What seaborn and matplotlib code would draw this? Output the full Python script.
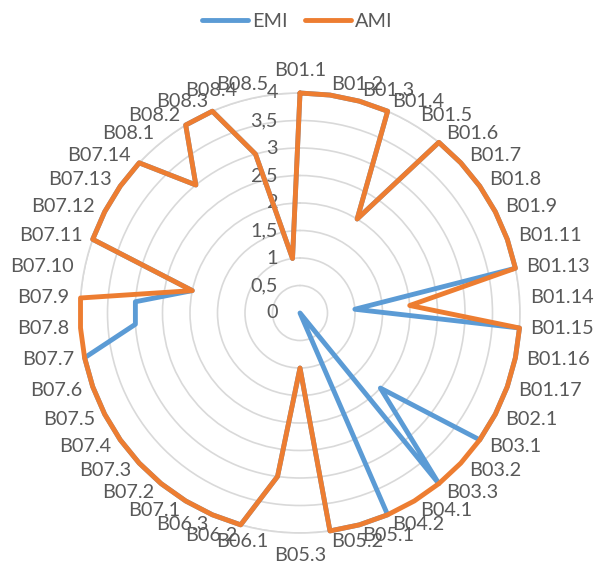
import numpy as np
import pandas as pd
import matplotlib
matplotlib.use("Agg")
import matplotlib.pyplot as plt
import seaborn as sns
from matplotlib.lines import Line2D

categories = ["B01.1", "B01.2", "B01.3", "B01.4", "B01.5", "B01.6", "B01.7", "B01.8",
              "B01.9", "B01.11", "B01.13", "B01.14", "B01.15", "B01.16", "B01.17",
              "B02.1", "B03.1", "B03.2", "B03.3", "B04.1", "B04.2", "B05.1", "B05.2",
              "B05.3", "B06.1", "B06.2", "B06.3", "B07.1", "B07.2", "B07.3", "B07.4",
              "B07.5", "B07.6", "B07.7", "B07.8", "B07.9", "B07.10", "B07.11", "B07.12",
              "B07.13", "B07.14", "B08.1", "B08.2", "B08.3", "B08.4", "B08.5"]

emi = [4, 4, 4, 4, 2, 4, 4, 4, 4, 4, 4, 1, 4, 4, 4,
       4, 4, 2, 4, 0, 4, 4, 4,
       1, 3, 4, 4, 4, 4, 4, 4,
       4, 4, 4, 3, 3, 2, 4, 4,
       4, 4, 3, 4, 4, 3, 1]
ami = [4, 4, 4, 4, 2, 4, 4, 4, 4, 4, 4, 2, 4, 4, 4,
       4, 4, 4, 4, 4, 4, 4, 4,
       1, 3, 4, 4, 4, 4, 4, 4,
       4, 4, 4, 4, 4, 2, 4, 4,
       4, 4, 3, 4, 4, 3, 1]

series_names = ["EMI", "AMI"]
radial_ticks = [0, 0.5, 1, 1.5, 2, 2.5, 3, 3.5, 4]
radial_tick_labels = ["0", "0,5", "1", "1,5", "2", "2,5", "3", "3,5", "4"]

sns.set_style("white")
plt.rcParams["font.family"] = ["Lato", "DejaVu Sans"]
TEXT = "#595959"
GRID = "#d9d9d9"
colors = {"EMI": "#5B9BD5", "AMI": "#ED7D31"}

n = len(categories)
theta = np.linspace(0, 2 * np.pi, n, endpoint=False)

rows = []
for name, vals in zip(series_names, [emi, ami]):
    th = list(theta) + [2 * np.pi]
    vv = list(vals) + [vals[0]]
    for t, v in zip(th, vv):
        rows.append({"theta": t, "value": v, "series": name})
df = pd.DataFrame(rows)

fig = plt.figure(figsize=(5.95, 5.67), dpi=100)
ax = fig.add_axes([80 / 595, 34 / 567, 440 / 595, 440 / 567], projection="polar")
ax.set_theta_zero_location("N")
ax.set_theta_direction(-1)
ax.set_axisbelow(True)

sns.lineplot(data=df, x="theta", y="value", hue="series", hue_order=series_names,
             palette=colors, sort=False, estimator=None, linewidth=3.5, ax=ax,
             legend=False)
for i, ln in enumerate(ax.lines):
    ln.set_clip_on(False)
    ln.set_solid_joinstyle("round")
    ln.set_solid_capstyle("round")
    ln.set_zorder(5 + i)

ax.set_ylim(0, 4)
ax.set_yticks(radial_ticks[1:])
ax.set_yticklabels([])
ax.set_xticks(theta)
ax.set_xticklabels([])
ax.xaxis.grid(False)
ax.yaxis.grid(True, color=GRID, linewidth=1.2)
ax.spines["polar"].set_color(GRID)
ax.spines["polar"].set_linewidth(1.2)
ax.spines["polar"].set_zorder(1)
ax.set_xlabel("")
ax.set_ylabel("")

fs = 14.3
for v, lbl in zip(radial_ticks, radial_tick_labels):
    ax.annotate(lbl, xy=(0, v), xytext=(-22, 0), textcoords="offset pixels",
                ha="right", va="center", fontsize=fs, color=TEXT, annotation_clip=False)

pad = 11
for t, cat in zip(theta, categories):
    s, c = np.sin(t), np.cos(t)
    if abs(s) < 1e-6:
        ha = "center"
        va = "bottom" if c > 0 else "top"
        p = 14
    elif s > 0:
        ha, va = "left", "center"
        p = pad
    else:
        ha, va = "right", "center"
        p = pad
    ax.annotate(cat, xy=(t, 4), xytext=(p * s, p * c), textcoords="offset pixels",
                ha=ha, va=va, fontsize=fs, color=TEXT, annotation_clip=False)

handles = [Line2D([0], [0], color=colors[nm], lw=3.5, solid_capstyle="round") for nm in series_names]
leg = fig.legend(handles, series_names, loc="center", bbox_to_anchor=(0.5, 1 - 21.5 / 567),
                 ncol=2, frameon=False, fontsize=fs, handlelength=2.3,
                 handletextpad=0.2, columnspacing=0.9)
for txt in leg.get_texts():
    txt.set_color(TEXT)

fig.savefig("out.png", dpi=100)
